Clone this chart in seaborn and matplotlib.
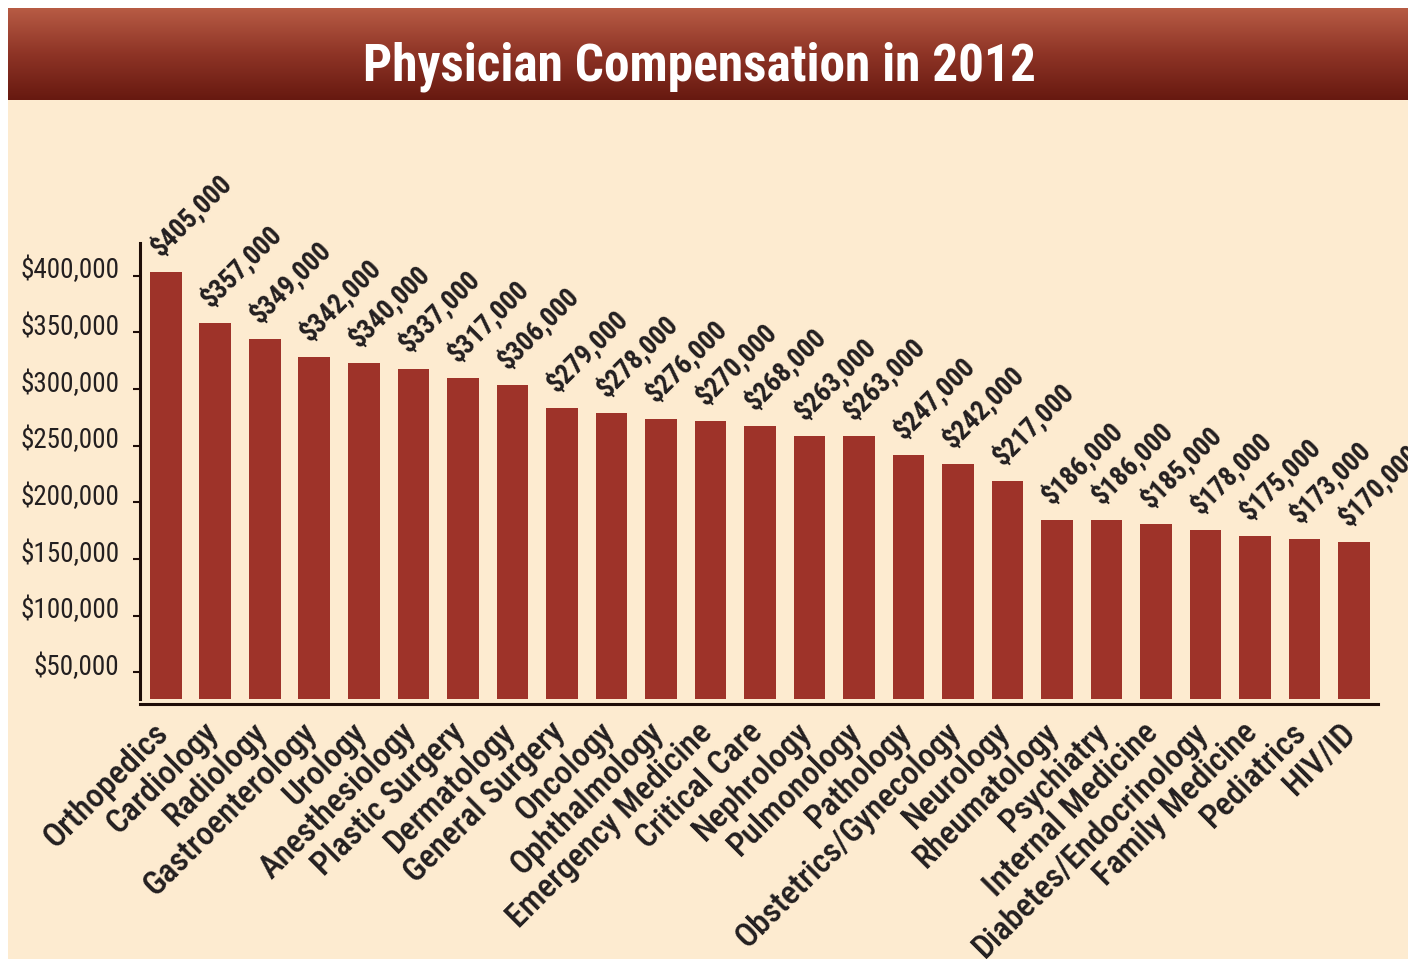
import numpy as np
import matplotlib
matplotlib.use("Agg")
import matplotlib.pyplot as plt
import matplotlib.transforms as mtransforms
from matplotlib.colors import LinearSegmentedColormap
from matplotlib.patches import Rectangle
from matplotlib.ticker import FuncFormatter
import seaborn as sns

# Physician compensation 2012 (bar heights, labels as printed)
specialties = ["Orthopedics", "Cardiology", "Radiology", "Gastroenterology", "Urology",
               "Anesthesiology", "Plastic Surgery", "Dermatology", "General Surgery", "Oncology",
               "Ophthalmology", "Emergency Medicine", "Critical Care", "Nephrology", "Pulmonology",
               "Pathology", "Obstetrics/Gynecology", "Neurology", "Rheumatology", "Psychiatry",
               "Internal Medicine", "Diabetes/Endocrinology", "Family Medicine", "Pediatrics", "HIV/ID"]
printed_salary = [405000, 357000, 349000, 342000, 340000, 337000, 317000, 306000, 279000, 278000,
                  276000, 270000, 268000, 263000, 263000, 247000, 242000, 217000, 186000, 186000,
                  185000, 178000, 175000, 173000, 170000]
bar_height = [403000, 358000, 344000, 328000, 323000, 318000, 310000, 303500, 283000, 279000,
              274000, 272000, 267000, 258500, 258500, 242000, 234000, 219000, 184500, 184500,
              181000, 175500, 170000, 167500, 165000]
ytick_values = [50000, 100000, 150000, 200000, 250000, 300000, 350000, 400000]

BAR = "#9E3329"
CREAM = "#FDEBD0"
INK = "#231F20"
AXIS = "#1E0D08"

sns.set_theme(style="white")
plt.rcParams["font.family"] = ["Roboto Condensed", "DejaVu Sans"]

fig = plt.figure(figsize=(14.08, 9.59), dpi=100, facecolor="white")
W, H = 1408, 959

# cream panel
fig.patches.append(Rectangle((8 / W, 0), 1 - 8 / W, (H - 100) / H,
                             transform=fig.transFigure, facecolor=CREAM, edgecolor="none", zorder=-5))

# title banner with vertical gradient
bax = fig.add_axes([8 / W, (H - 100) / H, 1 - 8 / W, 92 / H])
cmap = LinearSegmentedColormap.from_list("banner", ["#B75B44", "#8E3426", "#671910"])
bax.imshow(np.linspace(0, 1, 200).reshape(-1, 1), cmap=cmap, aspect="auto", extent=[0, 1, 0, 1])
bax.set_axis_off()
bax.text(0.494, 0.217, "Physician Compensation in 2012", color="white", fontsize=37,
         fontweight="bold", ha="center", va="baseline", transform=bax.transAxes)

# main chart
ax = fig.add_axes([140 / W, (H - 699) / H, 1238 / W, 456 / H])
ax.set_facecolor("none")
sns.barplot(x=specialties, y=bar_height, color=BAR, saturation=1, width=0.646,
            edgecolor="none", linewidth=0, ax=ax)
ax.set_xlim(-0.525, 24.485)
ax.set_ylim(26500, 428900)
ax.set_xlabel("")
ax.set_ylabel("")

# spines first: moving a spine resets the ticks
for s in ["top", "right"]:
    ax.spines[s].set_visible(False)
for s in ["left", "bottom"]:
    ax.spines[s].set_color(AXIS)
    ax.spines[s].set_linewidth(2.2)
ax.spines["bottom"].set_position(("outward", 3.6))

ax.set_yticks(ytick_values)
ax.yaxis.set_major_formatter(FuncFormatter(lambda v, p: f"${v:,.0f}"))
ax.tick_params(axis="y", direction="out", length=5, width=1.5, color=AXIS,
               labelsize=19.5, labelcolor=INK, pad=10, left=True)
shift = mtransforms.ScaledTranslation(0, 8 / 100, fig.dpi_scale_trans)
for lab in ax.get_yticklabels():
    lab.set_transform(lab.get_transform() + shift)

ax.tick_params(axis="x", length=0, pad=17, labelsize=24, labelcolor=INK)
ax.set_xticks(range(len(specialties)))
ax.set_xticklabels(specialties, rotation=45, ha="right", rotation_mode="anchor",
                   fontweight="medium")
xshift = mtransforms.ScaledTranslation(-14 / 100, 11 / 100, fig.dpi_scale_trans)
for lab in ax.get_xticklabels():
    lab.set_transform(lab.get_transform() + xshift)

# printed value labels above bars
for i, (h, v) in enumerate(zip(bar_height, printed_salary)):
    ax.annotate(f"${v:,}", xy=(i - 0.323, h), xytext=(11, 15), textcoords="offset pixels",
                rotation=45, rotation_mode="anchor", ha="left", va="baseline",
                fontsize=19.5, fontweight="bold", color=INK, annotation_clip=False)

fig.savefig("out.png", dpi=100, facecolor=fig.get_facecolor())
